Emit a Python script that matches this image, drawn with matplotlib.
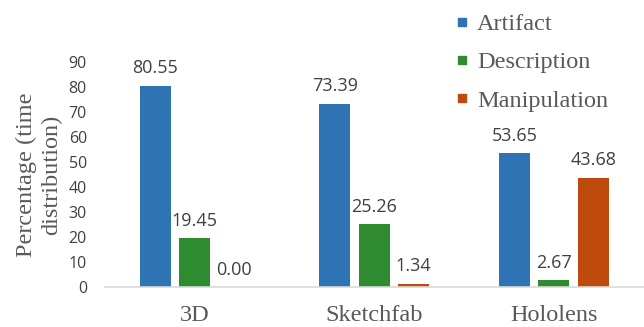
"""
plot.py — grouped bar chart of time distribution per viewing platform
Draws Artifact / Description / Manipulation percentages for each platform.
"""

import numpy as np
import matplotlib
matplotlib.use("Agg")
import matplotlib.pyplot as plt
from matplotlib.lines import Line2D

# Data
platforms = ["3D", "Sketchfab", "Hololens"]
series_names = ["Artifact", "Description", "Manipulation"]
artifact = [80.55, 73.39, 53.65]
description = [19.45, 25.26, 2.67]
manipulation = [0.00, 1.34, 43.68]
y_ticks = [0, 10, 20, 30, 40, 50, 60, 70, 80, 90]

COLORS = ["#2E74B5", "#2E8B30", "#BE4A0D"]
SERIF = "Liberation Serif"
SANS = "Open Sans"
TEXT_GREY = "#595959"
VALUE_GREY = "#404040"


def draw_chart(out_file: str = "out.png") -> None:
    """Build the grouped bar chart and save it."""
    fig = plt.figure(figsize=(6.44, 3.27), dpi=100)
    ax = fig.add_axes([105 / 644, 40 / 327, 538.5 / 644, 225 / 327])

    x = np.arange(len(platforms))
    width = 0.173
    step = 0.22
    values = [artifact, description, manipulation]

    for i, (name, vals) in enumerate(zip(series_names, values)):
        bars = ax.bar(x + (i - 1) * step, vals, width,
                      color=COLORS[i], label=name, zorder=2)
        ax.bar_label(bars, fmt="%.2f", padding=6,
                     fontsize=13, family=SANS, color=VALUE_GREY)

    ax.set_xlim(-0.5, len(platforms) - 0.5)
    ax.set_ylim(0, 90)
    ax.set_yticks(y_ticks)
    ax.set_xticks(x)
    ax.set_xticklabels(platforms, family=SERIF, fontsize=17.5, color=TEXT_GREY)
    for lab in ax.get_yticklabels():
        lab.set_family(SANS)
        lab.set_fontsize(11.5)
        lab.set_color(VALUE_GREY)

    ax.tick_params(axis="x", length=0, pad=13)
    ax.tick_params(axis="y", length=0, pad=13)

    # only the light baseline stays
    for side in ["top", "right", "left"]:
        ax.spines[side].set_visible(False)
    ax.spines["bottom"].set_color("#D9D9D9")
    ax.spines["bottom"].set_linewidth(1.2)

    ax.set_ylabel("Percentage (time\ndistribution)", family=SERIF,
                  fontsize=17.5, color=TEXT_GREY, linespacing=1.25)
    ax.yaxis.set_label_coords((39 - 105) / 538.5, 0.5)
    ax.yaxis.label.set_verticalalignment("center")

    # legend with small square markers, top right
    handles = [Line2D([], [], marker="s", linestyle="none", markersize=6,
                      color=c) for c in COLORS]
    fig.legend(handles, series_names, loc="upper left",
               bbox_to_anchor=(455 / 644, 1 - 13 / 327), frameon=False,
               prop={"family": SERIF, "size": 17.5}, labelcolor=TEXT_GREY,
               handlelength=0.6, handletextpad=0.3, labelspacing=0.67,
               borderpad=0, borderaxespad=0)

    plt.savefig(out_file, dpi=100)
    plt.close()


if __name__ == "__main__":
    draw_chart()
